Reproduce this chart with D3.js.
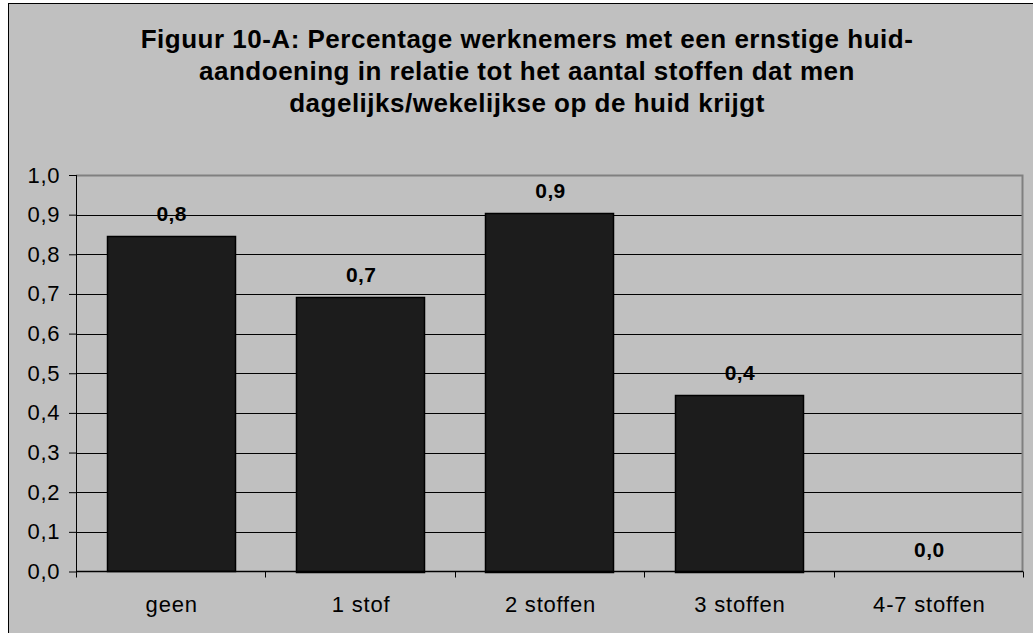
<!DOCTYPE html>
<html>
<head>
<meta charset="utf-8">
<script src="https://cdn.jsdelivr.net/npm/d3@7"></script>
<style>
  body { margin: 0; background: #fff; }
  svg { display: block; font-family: Arial, "Liberation Sans", sans-serif; }
</style>
</head>
<body>
<div id="canvas"></div>
<script>
// data
var categories = ['geen', '1 stof', '2 stoffen', '3 stoffen', '4-7 stoffen'];
var values = [0.845, 0.693, 0.905, 0.446, 0];
var valueLabels = ['0,8', '0,7', '0,9', '0,4', '0,0'];
var yTicks = [0, 0.1, 0.2, 0.3, 0.4, 0.5, 0.6, 0.7, 0.8, 0.9, 1.0];
var titleLines = [
    'Figuur 10-A: Percentage werknemers met een ernstige huid-',
    'aandoening in relatie tot het aantal stoffen dat men',
    'dagelijks/wekelijkse op de huid krijgt'
];

var W = 1033, H = 633;
var m = {t:175, r:10, b:62, l:76},
    w = 1023 - m.l,
    h = 571.5 - m.t;

var svg = d3.select('#canvas')
    .append('svg')
    .attr('width', W)
    .attr('height', H);

// chart area background + frame
svg.append('rect')
    .attr('x', 8.5).attr('y', 3.5)
    .attr('width', W + 20).attr('height', H + 20)
    .style('fill', '#c0c0c0')
    .style('stroke', '#000').style('stroke-width', 1);

// title
svg.append('g').attr('class','title')
    .selectAll('text')
    .data(titleLines)
    .enter()
    .append('text')
    .attr('x', 527)
    .attr('y', function(d,i){ return 48 + i*32.2; })
    .attr('text-anchor', 'middle')
    .style('font-size', '26px')
    .style('font-weight', 'bold')
    .style('letter-spacing', '0.5px')
    .style('fill', '#000')
    .text(function(d){ return d; });

var plot = svg.append('g').attr('class','plot')
    .attr('transform','translate('+ m.l+','+ m.t+')');

var x = d3.scaleBand().domain(categories).range([0, w]).paddingInner(0.324).paddingOuter(0.162);
var xEdge = d3.scaleBand().domain(categories).range([0, w]);
var y = d3.scaleLinear().domain([0, 1]).range([h, 0]);

// gridlines
plot.selectAll('.grid')
    .data(yTicks.filter(function(d){ return d > 0 && d < 1; }))
    .enter()
    .append('line').attr('class','grid')
    .attr('x1', 0).attr('x2', w)
    .attr('y1', function(d){ return Math.round(y(d)) + 0.5; })
    .attr('y2', function(d){ return Math.round(y(d)) + 0.5; })
    .style('stroke', '#000').style('stroke-width', 1);

// plot area border (top and right gray)
plot.append('path')
    .attr('d', 'M0,' + (Math.round(y(1)) + 0.5) + 'H' + (w - 0.5) + 'V' + h)
    .style('fill', 'none').style('stroke', '#808080').style('stroke-width', 2);

// bars
plot.selectAll('.bar')
    .data(values)
    .enter()
    .append('rect').attr('class','bar')
    .attr('x', function(d,i){ return Math.round(x(categories[i])) + 0.5; })
    .attr('y', function(d){ return Math.round(y(d)) + 0.5; })
    .attr('width', Math.round(x.bandwidth()))
    .attr('height', function(d){ return Math.max(0, Math.round(h - y(d))); })
    .style('fill', '#1c1c1c')
    .style('stroke', '#000').style('stroke-width', 1.5)
    .style('display', function(d){ return d > 0 ? null : 'none'; });

// value labels
plot.selectAll('.vlabel')
    .data(values)
    .enter()
    .append('text').attr('class','vlabel')
    .attr('x', function(d,i){ return x(categories[i]) + x.bandwidth()/2 + 1; })
    .attr('y', function(d){ return y(d) - 15; })
    .attr('text-anchor', 'middle')
    .style('font-size', '21px')
    .style('font-weight', 'bold')
    .style('letter-spacing', '0.4px')
    .text(function(d,i){ return valueLabels[i]; });

// y axis
var yAxis = d3.axisLeft(y)
    .tickValues(yTicks)
    .tickSize(7)
    .tickPadding(9)
    .tickFormat(function(d){ return d3.format('.1f')(d).replace('.', ','); });
var gy = plot.append('g').attr('class','y-axis').call(yAxis);
gy.select('.domain').attr('d', 'M0.5,0V' + h).style('stroke', '#000');
gy.selectAll('.tick line').style('stroke', '#000');
gy.selectAll('text')
    .style('font-size', '22px')
    .style('letter-spacing', '0.6px')
    .style('fill', '#000')
    .style('font-family', 'Arial, "Liberation Sans", sans-serif');

// x axis: baseline, boundary ticks and category labels
var gx = plot.append('g').attr('class','x-axis')
    .attr('transform', 'translate(0,' + h + ')');
gx.append('line')
    .attr('x1', 0).attr('x2', w).attr('y1', 0).attr('y2', 0)
    .style('stroke', '#000').style('stroke-width', 1.5);
gx.selectAll('.edge')
    .data(categories.concat(['end']))
    .enter()
    .append('line').attr('class','edge')
    .attr('x1', function(d,i){ return Math.round(i < categories.length ? xEdge(d) : w) + 0.5; })
    .attr('x2', function(d,i){ return Math.round(i < categories.length ? xEdge(d) : w) + 0.5; })
    .attr('y1', 0).attr('y2', 6)
    .style('stroke', '#000');
gx.selectAll('.clabel')
    .data(categories)
    .enter()
    .append('text').attr('class','clabel')
    .attr('x', function(d){ return xEdge(d) + xEdge.bandwidth()/2 + 1; })
    .attr('y', 40)
    .attr('text-anchor', 'middle')
    .style('font-size', '22px')
    .style('letter-spacing', '0.8px')
    .text(function(d){ return d; });
</script>
</body>
</html>
